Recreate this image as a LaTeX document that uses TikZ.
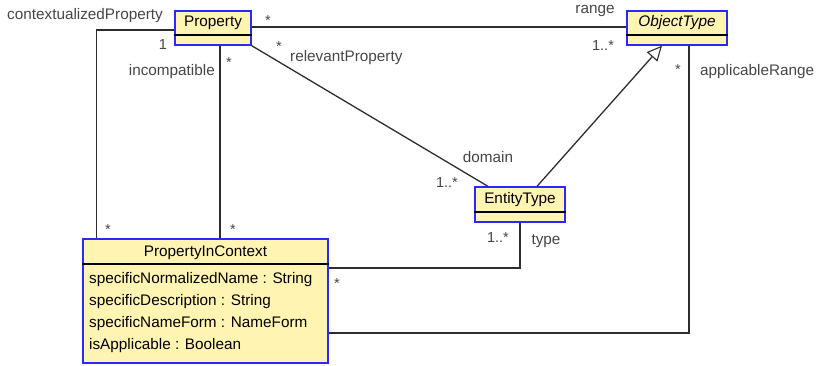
\documentclass[tikz,border=0pt]{standalone}
\usepackage{fontspec}
\setmainfont{Liberation Sans}
\usetikzlibrary{arrows.meta}
\definecolor{classfill}{RGB}{255,244,178}
\definecolor{classedge}{RGB}{40,40,255}
\definecolor{wire}{RGB}{45,45,45}
\definecolor{labelgray}{RGB}{70,70,70}
\begin{document}
\begin{tikzpicture}[x=1pt,y=-1pt,
  every node/.style={font=\fontsize{15.3}{18}\selectfont, inner sep=0pt},
  classbox/.style={draw=classedge, fill=classfill, line width=1.3pt, rectangle},
  divider/.style={draw=black, line width=1.2pt},
  wire/.style={draw=wire, line width=1.3pt},
  lbl/.style={text=labelgray},
  mult/.style={text=labelgray, font=\fontsize{14.5}{17}\selectfont},
  genarrow/.style={-{Triangle[open,length=15pt,width=14pt,fill=white,line width=1.1pt]}}
]
\useasboundingbox (0,0) rectangle (816,365);

% class boxes
\node[classbox, minimum width=76pt, minimum height=34pt] (prop) at (213,28) {};
\node[classbox, minimum width=100pt, minimum height=34pt] (obj) at (677,28) {};
\node[classbox, minimum width=90pt, minimum height=35pt] (ent) at (520,204.5) {};
\node[classbox, minimum width=245pt, minimum height=124pt] (pic) at (205.5,301) {};

% compartment separators
\draw[divider] (prop.west |- 0,35) -- (prop.east |- 0,35);
\draw[divider] (obj.west |- 0,35) -- (obj.east |- 0,35);
\draw[divider] (ent.west |- 0,212) -- (ent.east |- 0,212);
\draw[divider] (pic.west |- 0,264) -- (pic.east |- 0,264);

% class names and attributes
\node (propname) at (213,23) {Property};
\node (objname) at (677,23) {\itshape ObjectType};
\node (entname) at (520,200) {EntityType};
\node (picname) at (205.5,252.5) {PropertyInContext};
\node[anchor=west] (a1) at (89,279.5) {specificNormalizedName : String};
\node[anchor=west] (a2) at (89,301.5) {specificDescription : String};
\node[anchor=west] (a3) at (89,324) {specificNameForm : NameForm};
\node[anchor=west] (a4) at (89,346) {isApplicable : Boolean};

% associations
\draw[wire] ([yshift=1pt]prop.east) -- ([yshift=1pt]obj.west);
\draw[wire] ([yshift=-2pt]prop.west) -| ([xshift=14pt]pic.north west);
\draw[wire] ([xshift=7pt]prop.south) -- ([xshift=7pt]prop.south |- pic.north);
\draw[wire] (prop.south east) -- ([xshift=-32pt]ent.north);
\draw[wire] (ent.south) |- ([yshift=33pt]pic.east);
\draw[wire] ([xshift=12pt]obj.south) |- ([yshift=-32pt]pic.east);

% generalization
\draw[wire, genarrow] ([xshift=17pt]ent.north) -- ([xshift=-15pt]obj.south);

% role names and multiplicities
\node[lbl, anchor=west] (lcp) at (7,16) {contextualizedProperty};
\node[mult] (m1) at (163,45) {1};
\node[mult] (m2) at (268,21) {*};
\node[lbl, anchor=east] (linc) at (215,72) {incompatible};
\node[mult] (m3) at (229,63) {*};
\node[mult] (m4) at (279,47) {*};
\node[lbl, anchor=west] (lrel) at (290,58) {relevantProperty};
\node[lbl] (lrange) at (595,11) {range};
\node[mult] (m5) at (603,46) {1..*};
\node[mult] (m6) at (678,70) {*};
\node[lbl, anchor=west] (lapp) at (700,72) {applicableRange};
\node[lbl] (ldom) at (488,157) {domain};
\node[mult] (m7) at (447,183) {1..*};
\node[mult] (m8) at (498,238) {1..*};
\node[lbl] (ltype) at (546,241) {type};
\node[mult] (m9) at (337,284) {*};
\node[mult] (m10) at (108,230) {*};
\node[mult] (m11) at (233,230) {*};
\end{tikzpicture}
\end{document}
